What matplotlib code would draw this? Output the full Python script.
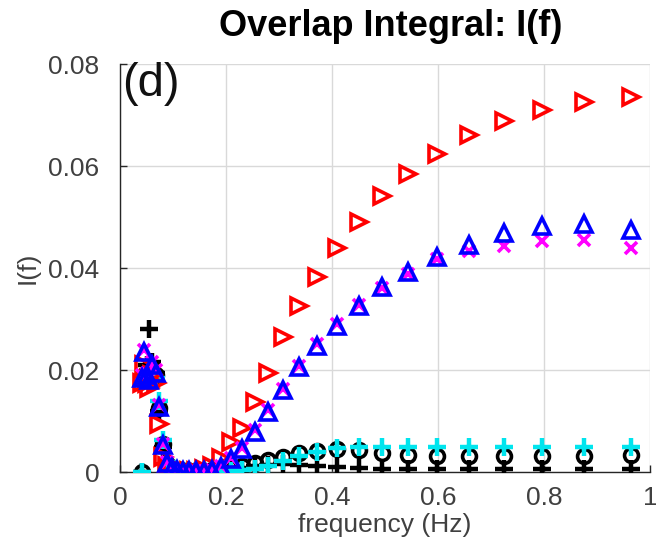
import numpy as np
import matplotlib.pyplot as plt

# frequencies (Hz)
freq = [0.042, 0.046, 0.050, 0.055, 0.061, 0.067, 0.074, 0.081, 0.089, 0.098,
        0.108, 0.118, 0.130, 0.143, 0.158, 0.173, 0.191, 0.210, 0.231, 0.254,
        0.279, 0.307, 0.338, 0.372, 0.409, 0.450, 0.495, 0.544, 0.599, 0.658,
        0.724, 0.797, 0.876, 0.964]

red_tri = [0.0175, 0.021, 0.0175, 0.0165, 0.019, 0.0175, 0.0095, 0.003, 0.0012, 0.0005,
           0.0002, 0.0001, 0.0001, 0.0002, 0.0005, 0.0012, 0.0028, 0.0059, 0.0086, 0.0138,
           0.0195, 0.0265, 0.0326, 0.0383, 0.0440, 0.0491, 0.0541, 0.0584, 0.0623, 0.0660,
           0.0688, 0.0710, 0.0725, 0.0735]

magenta_x = [0.019, 0.024, 0.0195, 0.0185, 0.0215, 0.020, 0.0132, 0.0055, 0.002, 0.0008,
             0.0003, 0.0002, 0.0001, 0.0001, 0.0002, 0.0004, 0.0011, 0.0027, 0.0047, 0.0082,
             0.0122, 0.0163, 0.0208, 0.0251, 0.0291, 0.0328, 0.0360, 0.0389, 0.0418, 0.0434,
             0.0444, 0.0452, 0.0454, 0.0440]

blue_tri = [0.0185, 0.0235, 0.019, 0.018, 0.021, 0.0195, 0.0128, 0.0052, 0.0018, 0.0007,
            0.0003, 0.0002, 0.0001, 0.0001, 0.0002, 0.0004, 0.001, 0.0026, 0.0045, 0.0079,
            0.0118, 0.0160, 0.0205, 0.0248, 0.0287, 0.0326, 0.0362, 0.0393, 0.0421, 0.0446,
            0.0468, 0.0482, 0.0487, 0.0474]

black_o = [0.0, 0.019, 0.0185, 0.018, 0.020, 0.019, 0.0125, 0.0055, 0.0015, 0.0005,
           0.0002, 0.0001, 0.0001, 0.0001, 0.0002, 0.0003, 0.0005, 0.0008, 0.0012, 0.0018,
           0.0024, 0.0030, 0.0037, 0.0042, 0.0045, 0.0043, 0.0037, 0.0033, 0.0032, 0.0032,
           0.0032, 0.0032, 0.0032, 0.0033]

cyan_plus = [0.0, 0.0185, 0.019, 0.0175, 0.0195, 0.0185, 0.014, 0.0062, 0.002, 0.0006,
             0.0002, 0.0001, 0.0001, 0.0001, 0.0001, 0.0001, 0.0001, 0.0002, 0.0003, 0.0006,
             0.0012, 0.0022, 0.0031, 0.0040, 0.0047, 0.0050, 0.0050, 0.0050, 0.0050, 0.0050,
             0.0050, 0.0050, 0.0050, 0.0050]

black_plus = [0.0, 0.0195, 0.021, 0.0281, 0.0215, 0.0195, 0.012, 0.005, 0.0015, 0.0005,
              0.0002, 0.0002, 0.0002, 0.0002, 0.0002, 0.0002, 0.0002, 0.0005, 0.0008, 0.0011,
              0.0013, 0.0015, 0.0014, 0.0012, 0.0009, 0.0007, 0.0006, 0.0006, 0.0006, 0.0006,
              0.0006, 0.0006, 0.0006, 0.0006]

xticks = [0, 0.2, 0.4, 0.6, 0.8, 1]
xticklabels = ['0', '0.2', '0.4', '0.6', '0.8', '1']
yticks = [0, 0.02, 0.04, 0.06, 0.08]
yticklabels = ['0', '0.02', '0.04', '0.06', '0.08']

plt.rcParams['font.family'] = ['Liberation Sans', 'DejaVu Sans']

fig = plt.figure(figsize=(6.56, 5.42), dpi=100)
ax = fig.add_axes([120/656, 1-472/542, 530/656, 408/542])

ms = 11
mw = 2.6
ax.plot(freq, black_plus, '+', color='k', ms=ms+2, mew=mw+0.6, zorder=3)
ax.plot(freq, black_o, 'o', color='k', mfc='none', ms=ms-1, mew=mw, zorder=3)
ax.plot(freq, cyan_plus, '+', color='#00e5ee', ms=ms+2, mew=mw+0.6, zorder=3)
ax.plot(freq, red_tri, '>', color='r', mfc='none', ms=ms, mew=mw, zorder=3)
ax.plot(freq, magenta_x, 'x', color='#ff00ff', ms=ms-2, mew=mw, zorder=3)
ax.plot(freq, blue_tri, '^', color='b', mfc='none', ms=ms, mew=mw, zorder=3)

ax.set_xlim(0, 1)
ax.set_ylim(0, 0.08)
ax.set_xticks(xticks)
ax.set_xticklabels(xticklabels)
ax.set_yticks(yticks)
ax.set_yticklabels(yticklabels)
ax.tick_params(direction='in', length=5, width=1, labelsize=19,
               labelcolor='#404040', color='#262626')
ax.tick_params(axis='y', pad=15)
ax.tick_params(axis='x', pad=10)
ax.grid(True, color='#d9d9d9', linewidth=1)
ax.set_axisbelow(True)
for s in ['top', 'right']:
    ax.spines[s].set_visible(False)
for s in ['left', 'bottom']:
    ax.spines[s].set_color('#262626')
    ax.spines[s].set_linewidth(1)

ax.set_xlabel('frequency (Hz)', fontsize=19, color='#404040', labelpad=2)
ax.set_ylabel('I(f)', fontsize=19, color='#404040', labelpad=6)
ax.text(0.004, 0.0803, '(d)', fontsize=34, va='top', ha='left', color='#111111')

fig.text(391/656, 1-26/542, 'Overlap Integral: I(f)', fontsize=26,
         fontweight='bold', ha='center', va='center')

fig.savefig('out.png', dpi=100)
